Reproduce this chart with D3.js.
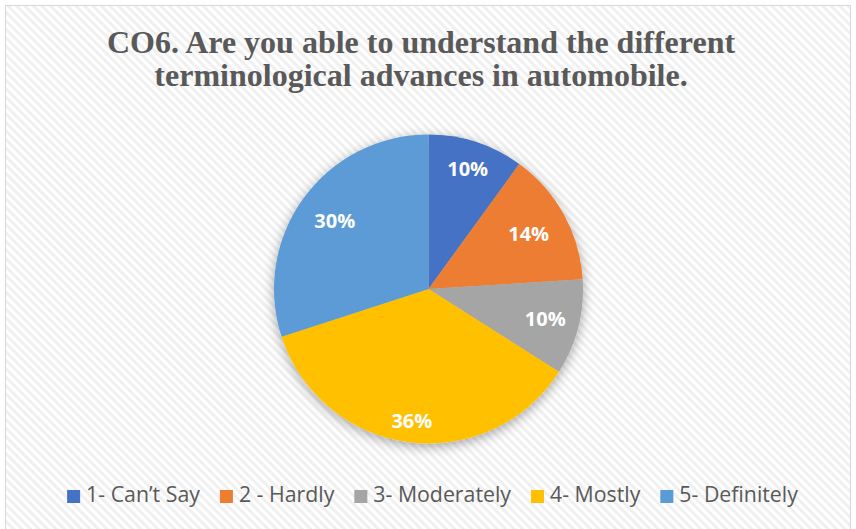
<!DOCTYPE html>
<html>
<head>
<meta charset="utf-8">
<script src="https://cdn.jsdelivr.net/npm/d3@7"></script>
<style>
  body { margin: 0; background: #fff; }
  svg { display: block; }
</style>
</head>
<body>
<svg id="chart" width="856" height="529"></svg>
<script>
// data
const categories = ['1- Can\u2019t Say', '2 - Hardly', '3- Moderately', '4- Mostly', '5- Definitely']
const values = [10, 14, 10, 36, 30]
const titleLines = ['CO6. Are you able to understand the different', 'terminological advances in automobile.']

const colors = ['#4472C4', '#ED7D31', '#A5A5A5', '#FFC000', '#5B9BD5']
// how far out each label sits (fraction of radius), Excel "best fit"
const labelDist = [0.82, 0.74, 0.78, 0.86, 0.75]

const svg = d3.select('#chart')
const cx = 428.5
const cy = 289
const radius = 154.5
const textGray = '#595959'

const defs = svg.append('defs')

// diagonal stripe background
const pat = defs.append('pattern')
  .attr('id', 'stripes')
  .attr('width', 6)
  .attr('height', 6)
  .attr('patternUnits', 'userSpaceOnUse')
  .attr('patternTransform', 'rotate(-45)')
pat.append('rect').attr('width', 6).attr('height', 6).attr('fill', '#ffffff')
pat.append('rect').attr('width', 3).attr('height', 6).attr('fill', '#f0f0f0')

const shadow = defs.append('filter')
  .attr('id', 'shadow')
  .attr('x', '-20%').attr('y', '-20%')
  .attr('width', '140%').attr('height', '140%')
shadow.append('feDropShadow')
  .attr('dx', 0).attr('dy', 3)
  .attr('stdDeviation', 6)
  .attr('flood-color', '#000')
  .attr('flood-opacity', 0.35)

svg.append('rect')
  .attr('x', 5.5).attr('y', 5.5)
  .attr('width', 845).attr('height', 530)
  .attr('fill', 'url(#stripes)')
  .attr('stroke', '#d9d9d9')
  .attr('stroke-width', 1)

// title
svg.append('text')
  .attr('text-anchor', 'middle')
  .attr('font-family', '"Liberation Serif", "Times New Roman", serif')
  .attr('font-weight', 'bold')
  .attr('font-size', 32)
  .attr('fill', textGray)
  .selectAll('tspan')
  .data(titleLines)
  .enter()
  .append('tspan')
    .attr('x', 421)
    .attr('y', (d, i) => 53 + i * 33)
    .text(d => d)

// pie
const pie = d3.pie().sort(null).value(d => d)
const arcs = pie(values)
const arc = d3.arc().innerRadius(0).outerRadius(radius)

const g = svg.append('g')
  .attr('transform', `translate(${cx}, ${cy})`)

g.append('g')
  .attr('filter', 'url(#shadow)')
  .selectAll('path')
  .data(arcs)
  .enter()
  .append('path')
    .attr('d', arc)
    .attr('fill', (d, i) => colors[i])

g.selectAll('text.lbl')
  .data(arcs)
  .enter()
  .append('text')
    .attr('class', 'lbl')
    .attr('transform', (d, i) => {
      const r = radius * labelDist[i]
      const c = d3.arc().innerRadius(r).outerRadius(r).centroid(d)
      return `translate(${c[0]}, ${c[1]})`
    })
    .attr('text-anchor', 'middle')
    .attr('dy', '0.36em')
    .attr('font-family', '"Open Sans", sans-serif')
    .attr('font-weight', 'bold')
    .attr('font-size', 20)
    .attr('fill', '#ffffff')
    .text(d => d.data + '%')

// legend, laid out left to right and centred
const legend = svg.append('g')
const items = legend.selectAll('g.item')
  .data(categories)
  .enter()
  .append('g')
    .attr('class', 'item')

items.append('rect')
  .attr('width', 13).attr('height', 13)
  .attr('y', -12)
  .attr('fill', (d, i) => colors[i])

items.append('text')
  .attr('x', 19)
  .attr('font-family', '"Open Sans", sans-serif')
  .attr('font-size', 21.3)
  .attr('fill', textGray)
  .text(d => d)

let xpos = 0
items.each(function() {
  const w = d3.select(this).select('text').node().getComputedTextLength()
  d3.select(this).attr('transform', `translate(${xpos}, 0)`)
  xpos += 19 + w + 20
})
const legendW = xpos - 20
legend.attr('transform', `translate(${432.5 - legendW / 2}, 502)`)
</script>
</body>
</html>
